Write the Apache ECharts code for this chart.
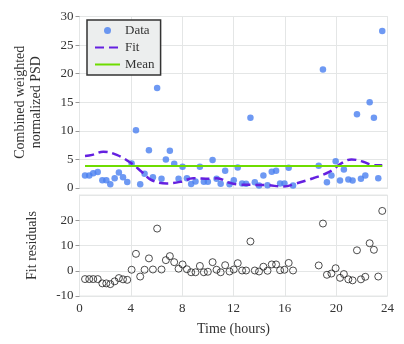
<!DOCTYPE html>
<html>
<head>
<meta charset="utf-8">
<script src="https://cdn.jsdelivr.net/npm/echarts@6/dist/echarts.min.js"></script>
<style>
  html, body { margin: 0; padding: 0; background: #fff; }
  #chart { width: 404px; height: 344px; }
</style>
</head>
<body>
<div id="chart"></div>
<script>
// time of each measurement (hours)
const times = [0.43, 0.76, 1.07, 1.42, 1.78, 2.09, 2.4, 2.74, 3.07, 3.39, 3.72, 4.06, 4.4, 4.73, 5.07, 5.41, 5.72,
    6.05, 6.39, 6.73, 7.04, 7.38, 7.72, 8.03, 8.37, 8.7, 9.04, 9.38, 9.69, 10.0, 10.37, 10.68, 11.0, 11.35, 11.69,
    12.02, 12.33, 12.67, 12.98, 13.32, 13.66, 13.99, 14.33, 14.65, 14.98, 15.32, 15.63, 15.97, 16.3, 16.64,
    18.64, 18.97, 19.28, 19.63, 19.96, 20.3, 20.6, 20.95, 21.28, 21.62, 21.93, 22.27, 22.61, 22.94, 23.28, 23.59]
// combined weighted normalized PSD
const psd = [2.2, 2.2, 2.6, 2.8, 1.35, 1.35, 0.65, 1.7, 2.7, 1.9, 1.05, 4.3, 10.1, 0.65, 2.5, 6.6, 1.9,
    17.5, 1.6, 5.0, 6.5, 4.25, 1.6, 3.7, 1.7, 0.7, 1.15, 3.7, 1.1, 1.1, 4.9, 1.6, 0.75, 3.0, 0.65,
    1.35, 3.6, 0.8, 0.75, 12.3, 1.0, 0.45, 2.2, 0.5, 2.85, 3.0, 0.8, 0.8, 3.55, 0.45,
    3.9, 20.75, 1.0, 2.2, 4.7, 1.3, 3.25, 1.5, 1.3, 12.9, 1.6, 2.2, 15.0, 12.3, 1.7, 27.45]
// residuals of the fit
const residuals = [-3.3, -3.3, -3.3, -3.3, -5.0, -5.0, -5.3, -4.2, -2.9, -3.4, -3.6, 0.4, 6.7, -2.3, 0.4, 4.9, 0.5,
    16.7, 0.5, 4.2, 5.8, 3.4, 0.8, 2.5, 0.6, -0.6, -0.6, 1.9, -0.6, -0.4, 3.4, 0.4, -0.6, 2.2, -0.3,
    0.5, 3.0, 0.1, 0.1, 11.6, 0.1, -0.3, 1.6, 0.0, 2.5, 2.5, 0.2, 0.4, 3.1, 0.1,
    2.1, 18.7, -1.6, -1.1, 1.0, -2.8, -1.3, -3.4, -3.8, 8.1, -3.4, -2.4, 10.9, 8.3, -2.3, 23.7]
// fitted curve
const fitTimes = [0.43, 1.0, 1.85, 2.9, 4.06, 4.84, 5.6, 6.8, 7.9, 8.86, 10.16, 10.7, 11.7, 12.5,
    14.6, 15.9, 16.9, 18.2, 19.5, 20.4, 21.2, 22.1, 22.9, 23.59]
const fitValues = [5.6, 5.8, 6.35, 5.8, 4.3, 2.85, 1.4, 0.8, 1.1, 1.7, 1.6, 1.7, 0.9, 0.6,
    0.5, 0.25, 0.8, 1.7, 2.85, 4.3, 5.0, 4.6, 4.0, 4.0]
const meanValue = 3.85

const xTicks = [0, 4, 8, 12, 16, 20, 24]

const font = 'Liberation Serif'
const gridColor = '#e4e6e6'

const chart = echarts.init(document.getElementById('chart'))

const xAxisBase = {
    type: 'value', min: 0, max: 24, interval: 4,
    axisLine: { show: true, lineStyle: { color: gridColor } },
    axisTick: { show: false },
    splitLine: { lineStyle: { color: gridColor } }
}
const yAxisBase = {
    type: 'value',
    axisLine: { show: true, lineStyle: { color: gridColor } },
    axisTick: { show: true, length: 4, lineStyle: { color: '#999' } },
    axisLabel: { fontFamily: font, fontSize: 13, color: '#333', margin: 6 },
    splitLine: { lineStyle: { color: gridColor } },
    nameLocation: 'middle',
    nameTextStyle: { fontFamily: font, fontSize: 14, color: '#333', lineHeight: 16 }
}

const option = {
    animation: false,
    backgroundColor: '#fff',
    grid: [
        { left: 79.5, right: 16.5, top: 16.5, height: 171.5, show: true, borderColor: gridColor },
        { left: 79.5, right: 16.5, top: 195, height: 101, show: true, borderColor: gridColor }
    ],
    legend: {
        left: 87, top: 20, orient: 'vertical',
        padding: [4, 6, 4, 7], itemGap: 4,
        itemWidth: 25, itemHeight: 7,
        backgroundColor: '#eceeee', borderColor: '#333', borderWidth: 1.5,
        textStyle: { fontFamily: font, fontSize: 13, color: '#333', padding: [0, 2, 0, 0] },
        data: [
            { name: 'Data', icon: 'circle' },
            { name: 'Fit', itemStyle: { opacity: 0 } },
            { name: 'Mean', itemStyle: { opacity: 0 } }
        ]
    },
    xAxis: [
        Object.assign({}, xAxisBase, { gridIndex: 0, axisLabel: { show: false } }),
        Object.assign({}, xAxisBase, {
            gridIndex: 1,
            axisLabel: { fontFamily: font, fontSize: 13, color: '#333', margin: 6,
                formatter: v => xTicks.includes(v) ? String(v) : '' },
            name: 'Time (hours)', nameLocation: 'middle', nameGap: 26,
            nameTextStyle: { fontFamily: font, fontSize: 14, color: '#333' }
        })
    ],
    yAxis: [
        Object.assign({}, yAxisBase, {
            gridIndex: 0, min: 0, max: 30, interval: 5,
            name: 'Combined weighted\nnormalized PSD', nameGap: 35
        }),
        Object.assign({}, yAxisBase, {
            gridIndex: 1, min: -10, max: 30, interval: 10,
            axisLabel: Object.assign({}, yAxisBase.axisLabel, { showMaxLabel: false }),
            name: 'Fit residuals', nameGap: 39
        })
    ],
    series: [
        {
            name: 'Data', type: 'scatter', xAxisIndex: 0, yAxisIndex: 0,
            symbol: 'circle', symbolSize: 6.5,
            itemStyle: { color: '#4a80f0' },
            data: times.map((t, i) => [t, psd[i]])
        },
        {
            name: 'Fit', type: 'line', xAxisIndex: 0, yAxisIndex: 0,
            showSymbol: false, smooth: 0.4, symbol: 'none',
            lineStyle: { color: '#6420e0', width: 2.5, type: [9, 5] },
            itemStyle: { color: '#6420e0' },
            data: fitTimes.map((t, i) => [t, fitValues[i]])
        },
        {
            name: 'Mean', type: 'line', xAxisIndex: 0, yAxisIndex: 0,
            showSymbol: false, symbol: 'none',
            lineStyle: { color: '#6edc00', width: 2 },
            itemStyle: { color: '#6edc00' },
            data: [[times[0], meanValue], [times[times.length - 1], meanValue]]
        },
        {
            name: 'Residuals', type: 'scatter', xAxisIndex: 1, yAxisIndex: 1,
            symbol: 'circle', symbolSize: 7,
            itemStyle: { color: 'rgba(255,255,255,0)', borderColor: '#222', borderWidth: 1 },
            data: times.map((t, i) => [t, residuals[i]])
        }
    ]
}

chart.setOption(option)
</script>
</body>
</html>
